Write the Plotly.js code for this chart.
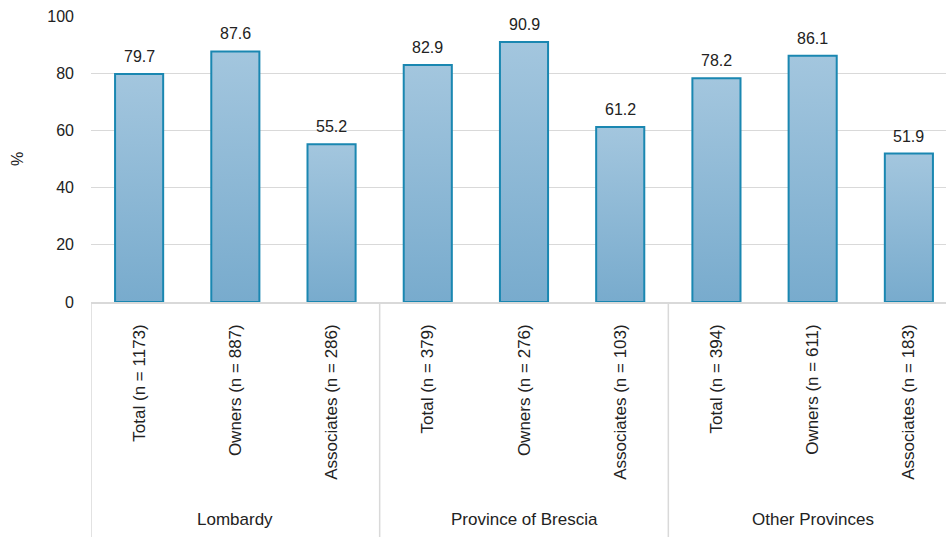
<!DOCTYPE html>
<html>
<head>
<meta charset="utf-8">
<script src="https://cdn.plot.ly/plotly-3.0.1.min.js"></script>
<style>
  html, body { margin: 0; padding: 0; background: #ffffff; }
  #chart { width: 946px; height: 537px; }
</style>
</head>
<body>
<div id="chart"></div>
<script>
// Share of respondents (%) by area and role
const groups = ["Lombardy", "Province of Brescia", "Other Provinces"];
const categories = [
  "Total (n = 1173)", "Owners (n = 887)", "Associates (n = 286)",
  "Total (n = 379)", "Owners (n = 276)", "Associates (n = 103)",
  "Total (n = 394)", "Owners (n = 611)", "Associates (n = 183)"
];
const values = [79.7, 87.6, 55.2, 82.9, 90.9, 61.2, 78.2, 86.1, 51.9];
const yTicks = [0, 20, 40, 60, 80, 100];

const perGroup = categories.length / groups.length;
const family = "Arial, 'Liberation Sans', sans-serif";
const font = { family: family, size: 16, color: "#222222" };
const catFont = { family: family, size: 17, color: "#222222" };

const trace = {
  type: "bar",
  x: categories,
  y: values,
  width: 0.5,
  marker: {
    color: "#8db8d6",
    line: { color: "#1a87b1", width: 2 }
  },
  hoverinfo: "x+y"
};

// value labels above each bar
const valueLabels = categories.map((c, i) => ({
  x: c, y: values[i], xref: "x", yref: "y",
  text: values[i].toFixed(1),
  showarrow: false, yanchor: "bottom", yshift: 7,
  font: font
}));

// group names centred under each block of bars
const groupLabels = groups.map((g, gi) => ({
  x: gi * perGroup + (perGroup - 1) / 2, y: -0.76,
  xref: "x", yref: "paper",
  text: g, showarrow: false, yanchor: "middle",
  font: catFont
}));

// vertical separators between groups below the axis
const separators = groups.map((g, gi) => ({
  type: "line", xref: "x", yref: "paper",
  x0: gi * perGroup - 0.5, x1: gi * perGroup - 0.5,
  y0: 0, y1: -0.85,
  line: { color: "#d9d9d9", width: 1.5 }
}));

const layout = {
  width: 946, height: 537,
  margin: { l: 91, r: 0, t: 16, b: 235 },
  paper_bgcolor: "#ffffff",
  plot_bgcolor: "#ffffff",
  showlegend: false,
  font: font,
  xaxis: {
    type: "category",
    range: [-0.5, -0.5 + 855 / (866 / 9)],
    tickangle: -90,
    ticks: "",
    ticklabelstandoff: 14,
    showline: true, linecolor: "#d9d9d9", linewidth: 1.5,
    showgrid: false, zeroline: false,
    tickfont: catFont,
    automargin: false
  },
  yaxis: {
    range: [0, 100],
    tickvals: yTicks,
    ticks: "",
    ticklabelstandoff: 16,
    showgrid: true, gridcolor: "#d9d9d9", gridwidth: 1.2,
    zeroline: false, showline: false,
    tickfont: font,
    title: { text: "%", font: font, standoff: 19 },
    automargin: false
  },
  annotations: valueLabels.concat(groupLabels),
  shapes: separators
};

Plotly.newPlot("chart", [trace], layout, { displayModeBar: false, staticPlot: true }).then(gd => {
  // vertical gradient fill for the bars
  const svg = gd.querySelector("svg.main-svg");
  const ns = "http://www.w3.org/2000/svg";
  let defs = svg.querySelector("defs");
  if (!defs) { defs = document.createElementNS(ns, "defs"); svg.insertBefore(defs, svg.firstChild); }
  const grad = document.createElementNS(ns, "linearGradient");
  grad.setAttribute("id", "barFill");
  grad.setAttribute("x1", "0"); grad.setAttribute("y1", "0");
  grad.setAttribute("x2", "0"); grad.setAttribute("y2", "1");
  [["0%", "#a3c6de"], ["100%", "#78abcd"]].forEach(([o, c]) => {
    const s = document.createElementNS(ns, "stop");
    s.setAttribute("offset", o); s.setAttribute("stop-color", c);
    grad.appendChild(s);
  });
  defs.appendChild(grad);
  gd.querySelectorAll(".barlayer .point path").forEach(p => { p.style.fill = "url(#barFill)"; });
});
</script>
</body>
</html>
